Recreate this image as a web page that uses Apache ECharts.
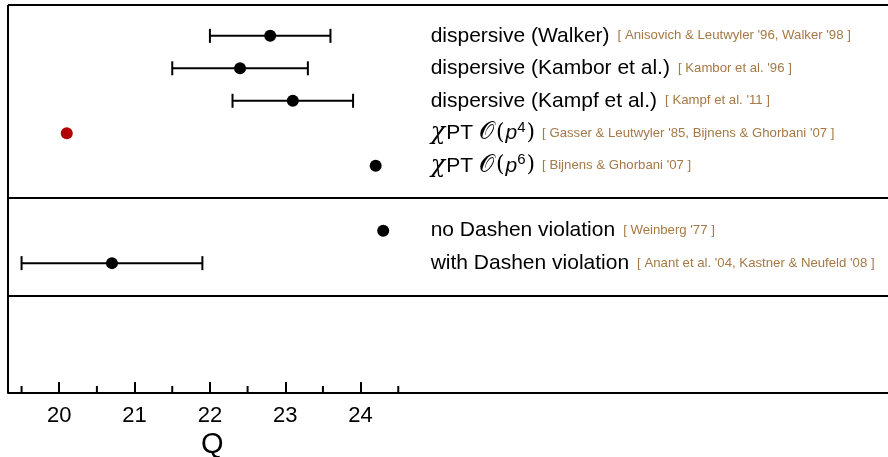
<!DOCTYPE html>
<html>
<head>
<meta charset="utf-8">
<script src="https://cdn.jsdelivr.net/npm/echarts@6/dist/echarts.min.js"></script>
<style>
html,body{margin:0;padding:0;background:#fff;}
#chart{width:888px;height:457px;}
</style>
</head>
<body>
<div id="chart"></div>
<script>
// ---- data ----
const rows = [0, 1, 2, 3, 4, 6, 7];
const centralValues = [22.8, 22.4, 23.1, 20.1, 24.2, 24.3, 20.7];
const errLow = [22.0, 21.5, 22.3, null, null, null, 19.5];
const errHigh = [23.6, 23.3, 23.9, null, null, null, 21.9];
const pointColors = ['#000', '#000', '#000', '#b30000', '#000', '#000', '#000'];
const labelMain = [
  'dispersive (Walker)',
  'dispersive (Kambor et al.)',
  'dispersive (Kampf et al.)',
  'chi4',
  'chi6',
  'no Dashen violation',
  'with Dashen violation'
];
const labelCite = [
  "[ Anisovich & Leutwyler '96, Walker '98 ]",
  "[ Kambor et al. '96 ]",
  "[ Kampf et al. '11 ]",
  "[ Gasser & Leutwyler '85, Bijnens & Ghorbani '07 ]",
  "[ Bijnens & Ghorbani '07 ]",
  "[ Weinberg '77 ]",
  "[ Anant et al. '04, Kastner & Neufeld '08 ]"
];
const majorTicks = [20, 21, 22, 23, 24];
const minorTicks = [19.5, 20.5, 21.5, 22.5, 23.5, 24.5];
const separators = [5, 8];
const axisName = 'Q';

// ---- layout constants ----
const X_MIN = 19.32, X_MAX = 31.0;
const Y_MIN = -0.95, Y_MAX = 11;
const LABEL_X = 24.93;
const NAME_X = 22.03;

const sans = 'Liberation Sans, Arial, sans-serif';
const serif = 'DejaVu Serif, Liberation Serif, serif';

function richLabel(i) {
  const m = labelMain[i];
  if (m === 'chi4' || m === 'chi6') {
    const sup = m === 'chi4' ? '4' : '6';
    return '{chi|χ}{main|PT }{cal|𝒪}{par|(}{it|p}{sup|' + sup + '}{par|)}{gap2| }{cite|' + labelCite[i] + '}';
  }
  return '{main|' + m + '}{gap| }{cite|' + labelCite[i] + '}';
}

const errData = [];
const ptData = [];
const lblData = [];
for (let i = 0; i < rows.length; i++) {
  if (errLow[i] != null) errData.push([errLow[i], errHigh[i], rows[i]]);
  ptData.push({value: [centralValues[i], rows[i]], itemStyle: {color: pointColors[i], opacity: 1}});
  lblData.push([LABEL_X, rows[i], i]);
}

const chart = echarts.init(document.getElementById('chart'));
const option = {
  animation: false,
  backgroundColor: '#fff',
  grid: {left: 8, right: 0, top: 5, bottom: 64, show: false},
  xAxis: {
    type: 'value', min: X_MIN, max: X_MAX,
    axisLine: {show: true, onZero: false, lineStyle: {color: '#000', width: 2}},
    axisTick: {show: true, inside: true, length: 11, customValues: majorTicks, lineStyle: {color: '#000', width: 2}},
    axisLabel: {show: true, customValues: majorTicks, fontSize: 22, color: '#000', fontFamily: sans, margin: 12},
    splitLine: {show: false}
  },
  yAxis: {type: 'value', min: Y_MIN, max: Y_MAX, inverse: true, show: false, splitLine: {show: false}},
  series: [{
    type: 'custom',
    data: minorTicks.map(v => [v, Y_MAX]),
    renderItem: function (params, api) {
      const p = api.coord([api.value(0), api.value(1)]);
      return {type: 'line', shape: {x1: p[0], y1: p[1], x2: p[0], y2: p[1] - 7}, style: {stroke: '#000', lineWidth: 2}};
    },
    silent: true,
    z: 1
  }, {
    type: 'custom',
    data: errData,
    renderItem: function (params, api) {
      const y = api.value(2);
      const p1 = api.coord([api.value(0), y]);
      const p2 = api.coord([api.value(1), y]);
      const h = 7;
      const st = {stroke: '#000', lineWidth: 2};
      return {type: 'group', children: [
        {type: 'line', shape: {x1: p1[0], y1: p1[1], x2: p2[0], y2: p2[1]}, style: st},
        {type: 'line', shape: {x1: p1[0], y1: p1[1] - h, x2: p1[0], y2: p1[1] + h}, style: st},
        {type: 'line', shape: {x1: p2[0], y1: p2[1] - h, x2: p2[0], y2: p2[1] + h}, style: st}
      ]};
    },
    z: 2
  }, {
    type: 'scatter',
    data: ptData,
    symbol: 'circle',
    symbolSize: 12,
    itemStyle: {opacity: 1},
    z: 3,
    markLine: {
      silent: true, symbol: 'none', label: {show: false},
      lineStyle: {color: '#000', width: 2, type: 'solid'},
      data: separators.map(v => ({yAxis: v})).concat([{yAxis: Y_MIN}, {xAxis: X_MIN}])
    }
  }, {
    type: 'custom',
    data: lblData,
    renderItem: function (params, api) {
      const p = api.coord([api.value(0), api.value(1)]);
      const i = api.value(2);
      return {
        type: 'text',
        x: p[0], y: p[1],
        style: {
          text: richLabel(i),
          verticalAlign: 'middle', align: 'left',
          rich: {
            main: {fontSize: 21, fontFamily: sans, fill: '#000', lineHeight: 26},
            gap: {fontSize: 21, fontFamily: sans, fill: '#000', lineHeight: 26, width: 8},
            gap2: {fontSize: 21, fontFamily: sans, fill: '#000', lineHeight: 26, width: 6},
            cite: {fontSize: 13.2, fontFamily: sans, fill: '#a57845', lineHeight: 26},
            chi: {fontSize: 24, fontFamily: serif, fontStyle: 'italic', fill: '#000', lineHeight: 26, padding: [0, 1, 0, 0]},
            cal: {fontSize: 24, fontFamily: serif, fill: '#000', lineHeight: 26, padding: [0, 2, 0, 0]},
            par: {fontSize: 22, fontFamily: serif, fill: '#000', lineHeight: 26, padding: [0, 1, 0, 0]},
            it: {fontSize: 21, fontFamily: sans, fontStyle: 'italic', fill: '#000', lineHeight: 26},
            sup: {fontSize: 15, fontFamily: sans, fill: '#000', lineHeight: 26, verticalAlign: 'top', padding: [0, 1, 0, 0]}
          }
        }
      };
    },
    z: 4
  }]
};
chart.setOption(option);
const np = chart.convertToPixel({xAxisIndex: 0}, NAME_X);
chart.setOption({
  graphic: [{
    type: 'text', x: np, y: 445,
    style: {text: axisName, fontSize: 29, fontFamily: sans, fill: '#000', align: 'center', verticalAlign: 'middle'}
  }]
});
</script>
</body>
</html>
